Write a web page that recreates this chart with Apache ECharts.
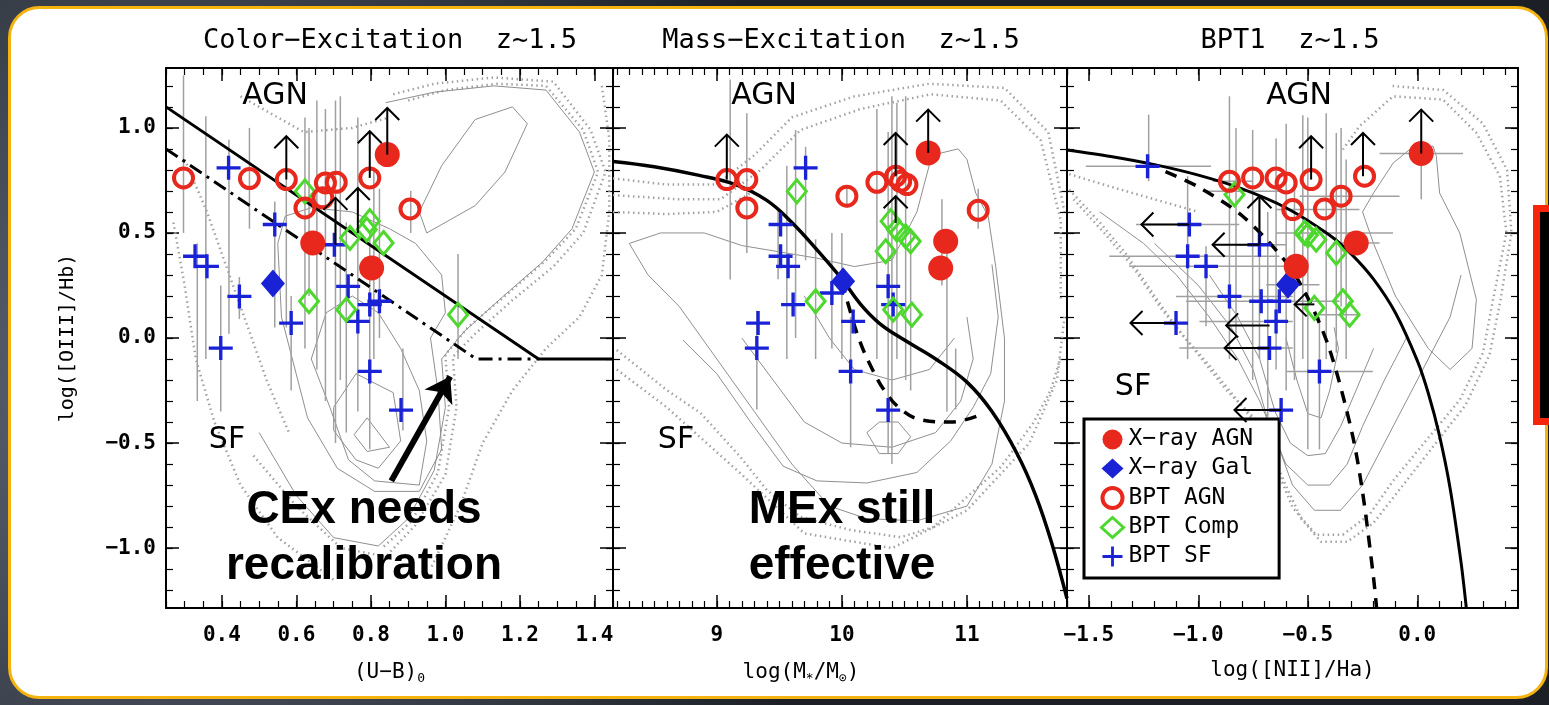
<!DOCTYPE html>
<html><head><meta charset="utf-8">
<script src="https://cdn.jsdelivr.net/npm/echarts/dist/echarts.min.js"></script>
<style>html,body{margin:0;padding:0;background:#2a2f37;overflow:hidden}#c{width:1549px;height:705px}</style>
</head><body><div id="c"></div>
<script>
// ---------------- DATA ----------------
const panelTitles = ['Color−Excitation  z~1.5', 'Mass−Excitation  z~1.5', 'BPT1  z~1.5'];
const xNames = ['(U−B){s|0}', 'log(M{s|*}/M{s|⊙})', 'log([NII]/Ha)'];
const yName = 'log([OIII]/Hb)';
const xRanges = [[0.25, 1.45], [8.17, 11.8], [-1.6, 0.46]];
const yRange = [-1.285, 1.285];
const xMajor = [[0.4, 0.6, 0.8, 1.0, 1.2, 1.4], [9, 10, 11], [-1.5, -1.0, -0.5, 0.0]];
const xMajorLabels = [['0.4', '0.6', '0.8', '1.0', '1.2', '1.4'], ['9', '10', '11'], ['−1.5', '−1.0', '−0.5', '0.0']];
const xMinorStep = [0.05, 0.1, 0.1];
const yMajor = [-1.0, -0.5, 0.0, 0.5, 1.0];
const yMajorLabels = ['−1.0', '−0.5', '0.0', '0.5', '1.0'];
const yMinorStep = 0.1;
const legendNames = ['X−ray AGN', 'X−ray Gal', 'BPT AGN', 'BPT Comp', 'BPT SF'];

// Panel 1: Color-Excitation
const xrayAGN1 = [[0.844, 0.873], [0.644, 0.452], [0.802, 0.333]];
const xrayGal1 = [[0.537, 0.259]];
const bptAGN1 = [[0.297, 0.762], [0.474, 0.759], [0.573, 0.754], [0.623, 0.619], [0.671, 0.667], [0.678, 0.738], [0.707, 0.741], [0.797, 0.762], [0.905, 0.614]];
const bptComp1 = [[0.623, 0.698], [0.744, 0.476], [0.797, 0.556], [0.789, 0.516], [0.834, 0.452], [0.634, 0.175], [0.734, 0.135], [1.034, 0.111]];
const bptSF1 = [[0.418, 0.81], [0.542, 0.54], [0.328, 0.389], [0.36, 0.341], [0.447, 0.198], [0.586, 0.071], [0.397, -0.048], [0.702, 0.444], [0.739, 0.246], [0.797, 0.159], [0.823, 0.175], [0.765, 0.079], [0.797, -0.159], [0.881, -0.343]];
const upArrows1 = [[0.573, 0.754, 0.96], [0.797, 0.762, 0.984], [0.844, 0.873, 1.095], [0.705, 0.444, 0.667], [0.765, 0.5, 0.714]];
const errV1 = [[0.297, 0.5, 1.25], [0.334, -0.3, 0.45], [0.357, -0.1, 1.055], [0.397, -0.35, 0.25], [0.419, 0.02, 0.944], [0.447, 0.09, 0.29], [0.474, 0.52, 1.0], [0.542, 0.05, 0.65], [0.586, -0.25, 0.2], [0.573, 0.05, 0.754], [0.623, -0.05, 1.05], [0.634, 0.2, 1.0], [0.655, -0.15, 1.13], [0.678, -0.3, 1.09], [0.705, -0.5, 1.13], [0.718, -0.2, 1.15], [0.734, -0.45, 0.55], [0.765, -0.35, 1.05], [0.797, -0.53, 0.5], [0.808, -0.1, 0.8], [0.823, 0.0, 0.71], [0.886, -0.44, -0.05], [0.907, 0.5, 0.7], [1.034, -0.1, 0.4]];
const cexSolid = [[0.25, 1.1], [1.25, -0.1], [1.45, -0.1]];
const cexDashDot = [[0.25, 0.9], [1.083, -0.1], [1.25, -0.1]];
const cexNoteArrow = [[0.855, -0.68], [1.013, -0.183]];
const contours1 = [
  [[0.755, -0.46], [0.79, -0.38], [0.85, -0.52], [0.79, -0.54], [0.755, -0.46]],
  [[0.70, -0.33], [0.76, -0.17], [0.86, -0.26], [0.88, -0.49], [0.82, -0.62], [0.76, -0.58], [0.70, -0.44], [0.70, -0.33]],
  [[0.64, -0.1], [0.69, -0.33], [0.74, -0.58], [0.81, -0.68], [0.93, -0.70], [0.95, -0.49], [0.93, -0.25], [0.88, -0.05], [0.82, 0.12], [0.75, 0.2], [0.68, 0.12], [0.64, -0.1]],
  [[0.55, 0.45], [0.56, 0.1], [0.63, -0.38], [0.71, -0.62], [0.81, -0.73], [0.93, -0.73], [0.99, -0.53], [0.98, -0.25], [0.96, 0.0], [1.0, 0.12], [0.99, 0.3], [0.92, 0.45], [0.85, 0.52], [0.75, 0.6], [0.64, 0.62], [0.57, 0.58], [0.55, 0.45]],
  [[0.95, 0.5], [0.93, 0.6], [0.99, 0.82], [1.08, 1.04], [1.18, 1.10], [1.22, 1.02], [1.16, 0.79], [1.08, 0.63], [0.95, 0.5]],
  [[0.84, 1.12], [0.97, 1.17], [1.13, 1.2], [1.27, 1.18], [1.36, 0.98], [1.4, 0.79], [1.34, 0.52], [1.26, 0.36], [1.15, 0.19], [1.05, 0.03], [0.99, -0.1], [1.0, -0.33], [0.97, -0.63], [0.9, -0.86], [0.82, -0.99], [0.7, -0.95], [0.6, -0.75], [0.5, -0.45]]
];
const dotted1 = [
  [[0.86, 1.16], [0.97, 1.21], [1.13, 1.24], [1.29, 1.22], [1.39, 0.99], [1.43, 0.79], [1.37, 0.5], [1.29, 0.34], [1.18, 0.18], [1.08, 0.02], [1.02, -0.09], [1.03, -0.33], [1.0, -0.65], [0.92, -0.89], [0.84, -1.04], [0.72, -1.0], [0.6, -0.8], [0.48, -0.55]],
  [[0.9, 1.13], [1.0, 1.18], [1.14, 1.21], [1.27, 1.2], [1.37, 0.99], [1.41, 0.79], [1.35, 0.52], [1.27, 0.37], [1.16, 0.2], [1.06, 0.05], [1.0, -0.08], [1.01, -0.33], [0.98, -0.64], [0.91, -0.87], [0.83, -1.0]],
  [[1.42, 1.2], [1.44, 0.95], [1.44, 0.6], [1.42, 0.3], [1.36, 0.1], [1.27, -0.05], [1.18, -0.25], [1.1, -0.5], [1.04, -0.8], [0.96, -1.1]],
  [[0.3, 0.85], [0.36, 0.6], [0.42, 0.3], [0.47, 0.05], [0.52, -0.2], [0.58, -0.45]],
  [[0.27, 0.55], [0.3, 0.25], [0.33, -0.1], [0.38, -0.4], [0.45, -0.7], [0.55, -0.95], [0.7, -1.15]],
  [[0.45, 1.15], [0.55, 1.05], [0.62, 0.98], [0.75, 1.0], [0.85, 1.05]]
];

// Panel 2: Mass-Excitation
const xrayAGN2 = [[10.69, 0.881], [10.83, 0.46], [10.79, 0.333]];
const xrayGal2 = [[10.01, 0.27]];
const bptAGN2 = [[9.08, 0.754], [9.24, 0.754], [9.24, 0.619], [10.04, 0.675], [10.28, 0.741], [10.43, 0.770], [10.47, 0.746], [10.52, 0.730], [11.09, 0.608]];
const bptComp2 = [[9.64, 0.698], [10.39, 0.556], [10.44, 0.516], [10.51, 0.484], [10.55, 0.46], [10.35, 0.413], [9.79, 0.175], [10.41, 0.135], [10.56, 0.111]];
const bptSF2 = [[9.71, 0.81], [9.51, 0.54], [9.51, 0.389], [9.57, 0.341], [9.61, 0.159], [9.92, 0.214], [10.09, 0.079], [10.37, 0.246], [10.41, 0.159], [9.33, 0.071], [9.32, -0.048], [10.07, -0.159], [10.37, -0.343]];
const upArrows2 = [[9.08, 0.754, 0.968], [10.43, 0.77, 0.976], [10.43, 0.548, 0.675], [10.69, 0.881, 1.087]];
const errV2 = [[9.107, 0.278, 1.23], [9.24, 0.405, 1.07], [9.32, -0.34, 0.13], [9.49, 0.28, 0.62], [9.56, -0.1, 0.82], [9.63, 0.0, 0.99], [9.71, 0.37, 0.91], [9.79, -0.1, 0.47], [9.92, -0.05, 0.5], [10.0, -0.1, 0.5], [10.07, -0.52, 0.1], [10.04, 0.62, 0.72], [10.28, -0.1, 1.09], [10.37, -0.55, 0.98], [10.4, -0.6, 1.15], [10.44, -0.1, 1.12], [10.51, -0.2, 1.15], [10.55, -0.25, 0.5], [10.8, 0.25, 0.66], [10.84, -0.35, 0.47], [11.09, 0.52, 0.71], [10.91, -0.34, -0.05]];
const mexUpper = [[8.17, 0.84], [8.5, 0.815], [8.85, 0.775], [9.15, 0.73], [9.4, 0.655], [9.6, 0.55], [9.8, 0.42], [10.0, 0.28], [10.15, 0.16], [10.3, 0.07], [10.5, -0.01], [10.75, -0.1], [11.0, -0.21], [11.2, -0.35], [11.4, -0.55], [11.55, -0.75], [11.68, -0.98], [11.8, -1.24]];
const mexLower = [[10.0, 0.27], [10.07, 0.12], [10.14, -0.01], [10.22, -0.12], [10.34, -0.25], [10.48, -0.343], [10.64, -0.39], [10.87, -0.40], [11.13, -0.36]];
const contours2 = [
  [[8.3, 0.45], [8.55, 0.5], [8.9, 0.5], [9.2, 0.44], [9.5, 0.41], [9.8, 0.38], [10.1, 0.34], [10.4, 0.37], [10.6, 0.6], [10.72, 0.87], [10.93, 0.9], [11.0, 0.85], [11.07, 0.69], [11.17, 0.58], [11.23, 0.34], [11.3, 0.0], [11.3, -0.3], [11.2, -0.6], [11.0, -0.8], [10.6, -0.87], [10.2, -0.86], [9.9, -0.8], [9.6, -0.6], [9.3, -0.35], [9.0, -0.1], [8.7, 0.15], [8.45, 0.3], [8.3, 0.45]],
  [[8.73, -0.01], [9.0, -0.17], [9.27, -0.4], [9.53, -0.61], [9.8, -0.68], [10.2, -0.69], [10.6, -0.64], [10.87, -0.49], [11.05, -0.33], [11.19, -0.17], [11.25, 0.1], [11.2, 0.35]],
  [[9.2, 0.0], [9.45, -0.2], [9.7, -0.4], [10.0, -0.5], [10.4, -0.52], [10.75, -0.45], [10.95, -0.3], [11.05, -0.1], [11.0, 0.1]],
  [[9.7, 0.2], [9.9, 0.0], [10.1, -0.15], [10.4, -0.2], [10.7, -0.15], [10.9, 0.0]],
  [[10.2, -0.45], [10.3, -0.4], [10.45, -0.4], [10.55, -0.47], [10.45, -0.55], [10.3, -0.55], [10.2, -0.45]]
];
const dotted2 = [
  [[8.2, -0.057], [8.6, -0.248], [8.87, -0.357], [9.19, -0.567], [9.4, -0.724], [9.67, -0.852], [10.07, -0.914], [10.47, -0.948], [10.73, -0.9], [11.0, -0.757], [11.27, -0.614], [11.53, -0.405], [11.67, -0.248], [11.75, -0.09]],
  [[8.2, -0.15], [8.6, -0.33], [9.2, -0.65], [9.7, -0.93], [10.4, -1.0], [11.0, -0.82], [11.5, -0.5], [11.72, -0.2], [11.78, 0.1]],
  [[8.17, 0.68], [8.7, 0.66], [9.03, 0.66], [9.35, 0.8], [9.67, 0.99], [10.15, 1.09], [10.71, 1.16], [11.27, 1.13], [11.59, 0.94], [11.75, 0.56], [11.75, 0.18]],
  [[8.17, 0.76], [8.6, 0.73], [9.0, 0.73], [9.3, 0.87], [9.6, 1.05], [10.1, 1.15], [10.7, 1.21], [11.3, 1.19], [11.65, 0.98], [11.78, 0.6]],
  [[8.17, 0.6], [8.6, 0.59], [9.0, 0.6], [9.3, 0.7]]
];

// Panel 3: BPT
const xrayAGN3 = [[0.018, 0.878], [-0.279, 0.452], [-0.553, 0.341]];
const xrayGal3 = [[-0.591, 0.254]];
const bptAGN3 = [[-0.858, 0.746], [-0.752, 0.762], [-0.645, 0.762], [-0.599, 0.738], [-0.485, 0.754], [-0.569, 0.611], [-0.424, 0.614], [-0.348, 0.675], [-0.241, 0.770]];
const bptComp3 = [[-0.835, 0.683], [-0.515, 0.5], [-0.462, 0.468], [-0.37, 0.405], [-0.47, 0.143], [-0.34, 0.175], [-0.309, 0.111], [-0.5, 0.49]];
const bptSF3 = [[-1.232, 0.817], [-1.041, 0.54], [-0.721, 0.444], [-1.049, 0.389], [-0.965, 0.341], [-0.858, 0.198], [-0.713, 0.175], [-0.63, 0.175], [-0.645, 0.079], [-1.102, 0.071], [-0.675, -0.048], [-0.447, -0.159], [-0.622, -0.343]];
const upArrows3 = [[-0.485, 0.754, 0.96], [-0.248, 0.77, 0.976], [0.018, 0.878, 1.087], [-0.721, 0.444, 0.675]];
const leftArrows3 = [[0.54, -1.041, -1.26], [0.444, -0.721, -0.935], [0.071, -1.102, -1.31], [0.06, -0.675, -0.873], [-0.048, -0.675, -0.88], [-0.343, -0.622, -0.835], [0.16, -0.47, -0.56]];
const errV3 = [[-1.227, 0.746, 1.063], [-1.049, -0.1, 0.77], [-0.965, 0.056, 0.437], [-0.858, -0.1, 1.15], [-0.828, 0.02, 1.0], [-0.752, -0.2, 0.99], [-0.721, -0.1, 0.675], [-0.683, -0.375, 0.6], [-0.645, -0.15, 0.95], [-0.599, -0.25, 1.02], [-0.561, -0.2, 0.77], [-0.523, -0.1, 1.06], [-0.5, -0.53, 1.05], [-0.447, -0.53, 0.1], [-0.416, -0.1, 1.07], [-0.37, -0.07, 0.976], [-0.348, 0.15, 1.0], [-0.325, -0.1, 0.85], [0.018, 0.66, 0.88]];
const errH3 = [[0.878, -0.172, 0.209], [0.817, -1.514, -0.942], [0.746, -0.934, -0.752], [0.698, -0.965, -0.569], [0.675, -0.538, -0.081], [0.611, -0.645, -0.264], [0.54, -1.285, -0.813], [0.5, -0.645, -0.111], [0.444, -0.828, -0.599], [0.452, -0.386, -0.172], [0.389, -1.407, -0.63], [0.341, -1.316, -0.569], [0.254, -0.69, -0.447], [0.198, -1.102, -0.569], [0.175, -1.056, -0.355], [0.079, -0.995, -0.569], [0.111, -0.447, -0.264], [-0.048, -1.087, -0.569], [-0.159, -0.599, -0.203]];
const kewley = [[-1.6, 0.895], [-1.4, 0.864], [-1.2, 0.825], [-1.0, 0.775], [-0.8, 0.710], [-0.6, 0.620], [-0.4, 0.489], [-0.3, 0.398], [-0.2, 0.280], [-0.1, 0.120], [0.0, -0.108], [0.05, -0.262], [0.1, -0.459], [0.15, -0.716], [0.2, -1.069], [0.224, -1.285]];
const kauffmann = [[-1.15, 0.792], [-1.0, 0.719], [-0.8, 0.582], [-0.6, 0.362], [-0.5, 0.191], [-0.4, -0.056], [-0.3, -0.443], [-0.25, -0.733], [-0.2, -1.14], [-0.186, -1.285]];
const contours3 = [
  [[-1.45, 0.6], [-1.25, 0.45], [-1.1, 0.3], [-0.95, 0.1], [-0.82, -0.1], [-0.72, -0.3], [-0.64, -0.5], [-0.57, -0.7], [-0.47, -0.82], [-0.35, -0.82], [-0.25, -0.7], [-0.15, -0.5], [-0.05, -0.3], [0.05, -0.1], [0.15, 0.1], [0.2, 0.3]],
  [[-1.2, 0.45], [-1.0, 0.25], [-0.85, 0.05], [-0.75, -0.15], [-0.68, -0.4], [-0.6, -0.6], [-0.5, -0.7], [-0.4, -0.7], [-0.32, -0.6], [-0.25, -0.42], [-0.15, -0.2], [-0.05, 0.0]],
  [[-0.95, 0.3], [-0.82, 0.1], [-0.72, -0.1], [-0.65, -0.35], [-0.58, -0.5], [-0.5, -0.56], [-0.42, -0.55], [-0.35, -0.42], [-0.28, -0.25], [-0.2, -0.05]],
  [[-0.6, 0.0], [-0.55, -0.2], [-0.5, -0.36], [-0.44, -0.38], [-0.4, -0.25], [-0.36, -0.05], [-0.38, 0.05]],
  [[-0.25, 0.6], [-0.2, 0.69], [-0.11, 0.833], [-0.035, 0.897], [0.072, 0.913], [0.087, 0.865], [0.102, 0.69], [0.194, 0.5], [0.27, 0.183], [0.25, -0.05], [0.15, -0.15], [0.05, -0.05], [-0.1, 0.2], [-0.2, 0.45], [-0.25, 0.6]]
];
const dotted3 = [
  [[-1.59, 0.706], [-1.45, 0.55], [-1.33, 0.4], [-1.2, 0.2], [-1.1, 0.05], [-0.995, -0.086], [-0.873, -0.247], [-0.72, -0.407], [-0.645, -0.615], [-0.569, -0.808], [-0.462, -0.936], [-0.34, -0.936], [-0.218, -0.84], [-0.111, -0.68], [0.041, -0.487], [0.194, -0.295], [0.3, -0.07], [0.346, 0.183], [0.407, 0.5], [0.377, 0.77], [0.27, 0.976], [0.117, 1.135], [-0.111, 1.15], [-0.264, 1.008], [-0.34, 0.897]],
  [[-1.57, 0.66], [-1.43, 0.5], [-1.3, 0.34], [-1.17, 0.14], [-1.06, 0.0], [-0.95, -0.13], [-0.82, -0.3], [-0.69, -0.47], [-0.61, -0.68], [-0.53, -0.86], [-0.44, -0.97], [-0.32, -0.97], [-0.2, -0.88], [-0.08, -0.72], [0.07, -0.52], [0.22, -0.32], [0.33, -0.08], [0.38, 0.18], [0.43, 0.5], [0.41, 0.8], [0.3, 1.02], [0.12, 1.18], [-0.12, 1.2]],
  [[-1.59, 0.78], [-1.4, 0.72], [-1.2, 0.66], [-1.0, 0.6]]
];

// ---------------- BUILD ----------------
const gridBoxes = [[166, 68, 447, 540], [613, 68, 454, 540], [1067, 68, 451, 540]];
const monoFont = 'DejaVu Sans Mono';
const plusPath = 'path://M4.3,0 h1.4 v4.3 h4.3 v1.4 h-4.3 v4.3 h-1.4 v-4.3 h-4.3 v-1.4 h4.3 Z';
const RED = '#e8281c', BLUE = '#1a22d6', GREEN = '#4cd82c', GREY = '#a0a0a0';

function minorTicks(mn, mx, step) {
  const out = [];
  for (let k = Math.ceil(mn / step - 1e-9); k * step <= mx + 1e-9; k++) out.push(Math.round(k * step * 1e6) / 1e6);
  return out;
}
function labelMapper(vals, labels) {
  const m = {};
  vals.forEach((v, i) => { m[v.toFixed(3)] = labels[i]; });
  return v => m[Number(v).toFixed(3)] || '';
}
const tickLabelStyle = { color: '#000', fontFamily: monoFont, fontWeight: 'bold', fontSize: 21 };

const xAxes = [], yAxes = [], grids = [];
gridBoxes.forEach((b, g) => {
  grids.push({ left: b[0], top: b[1], width: b[2], height: b[3], containLabel: false });
  const [mn, mx] = xRanges[g];
  const base = { type: 'value', gridIndex: g, min: mn, max: mx, splitLine: { show: false }, axisPointer: { show: false } };
  const lineOn = { show: true, onZero: false, lineStyle: { color: '#000', width: 2 } };
  const lineOff = { show: false, onZero: false };
  const majT = { show: true, inside: true, length: 13, customValues: xMajor[g], lineStyle: { color: '#000', width: 1.5 } };
  const minT = { show: true, inside: true, length: 7, customValues: minorTicks(mn, mx, xMinorStep[g]), lineStyle: { color: '#000', width: 1.2 } };
  xAxes.push({ ...base, position: 'bottom', axisLine: lineOn, axisTick: majT,
    axisLabel: { show: true, customValues: xMajor[g], formatter: labelMapper(xMajor[g], xMajorLabels[g]), margin: 17, ...tickLabelStyle },
    name: xNames[g], nameLocation: 'middle', nameGap: 52,
    nameTextStyle: { color: '#000', fontFamily: monoFont, fontSize: 21, padding: g === 1 ? [0, 78, 0, 0] : 0,
      rich: { s: { fontFamily: monoFont, fontSize: 13, color: '#000', padding: [12, 0, 0, 0] } } } });
  xAxes.push({ ...base, position: 'bottom', axisLine: lineOff, axisTick: minT, axisLabel: { show: false } });
  xAxes.push({ ...base, position: 'top', axisLine: lineOn, axisTick: majT, axisLabel: { show: false } });
  xAxes.push({ ...base, position: 'top', axisLine: lineOff, axisTick: minT, axisLabel: { show: false } });

  const ybase = { type: 'value', gridIndex: g, min: yRange[0], max: yRange[1], splitLine: { show: false }, axisPointer: { show: false } };
  const ymajT = { show: true, inside: true, length: 13, customValues: yMajor, lineStyle: { color: '#000', width: 1.5 } };
  const yminT = { show: true, inside: true, length: 7, customValues: minorTicks(yRange[0], yRange[1], yMinorStep), lineStyle: { color: '#000', width: 1.2 } };
  const leftMaj = { ...ybase, position: 'left', axisLine: lineOn, axisTick: ymajT,
    axisLabel: g === 0 ? { show: true, customValues: yMajor, formatter: labelMapper(yMajor, yMajorLabels), margin: 10, ...tickLabelStyle } : { show: false } };
  if (g === 0) Object.assign(leftMaj, { name: yName, nameLocation: 'middle', nameRotate: 90, nameGap: 88,
    nameTextStyle: { color: '#000', fontFamily: monoFont, fontSize: 20 } });
  yAxes.push(leftMaj);
  yAxes.push({ ...ybase, position: 'left', axisLine: lineOff, axisTick: yminT, axisLabel: { show: false } });
  yAxes.push({ ...ybase, position: 'right', axisLine: lineOn, axisTick: ymajT, axisLabel: { show: false } });
  yAxes.push({ ...ybase, position: 'right', axisLine: lineOff, axisTick: yminT, axisLabel: { show: false } });
});

function vErr(params, api) {
  const a = api.coord([api.value(0), api.value(1)]), b = api.coord([api.value(0), api.value(2)]);
  return { type: 'line', shape: { x1: a[0], y1: a[1], x2: b[0], y2: b[1] }, style: { stroke: GREY, lineWidth: 1.5 } };
}
function hErr(params, api) {
  const a = api.coord([api.value(1), api.value(0)]), b = api.coord([api.value(2), api.value(0)]);
  return { type: 'line', shape: { x1: a[0], y1: a[1], x2: b[0], y2: b[1] }, style: { stroke: GREY, lineWidth: 1.5 } };
}
function upArrow(params, api) {
  const a = api.coord([api.value(0), api.value(1)]), b = api.coord([api.value(0), api.value(2)]);
  return { type: 'group', children: [
    { type: 'line', shape: { x1: a[0], y1: a[1], x2: b[0], y2: b[1] }, style: { stroke: '#000', lineWidth: 2 } },
    { type: 'polyline', shape: { points: [[b[0] - 12, b[1] + 12], [b[0], b[1]], [b[0] + 12, b[1] + 12]] }, style: { stroke: '#000', lineWidth: 2, fill: 'none' } }
  ] };
}
function leftArrow(params, api) {
  const a = api.coord([api.value(1), api.value(0)]), b = api.coord([api.value(2), api.value(0)]);
  return { type: 'group', children: [
    { type: 'line', shape: { x1: a[0], y1: a[1], x2: b[0], y2: b[1] }, style: { stroke: '#000', lineWidth: 2 } },
    { type: 'polyline', shape: { points: [[b[0] + 12, b[1] - 12], [b[0], b[1]], [b[0] + 12, b[1] + 12]] }, style: { stroke: '#000', lineWidth: 2, fill: 'none' } }
  ] };
}

const series = [];
function ax(g) { return { xAxisIndex: g * 4, yAxisIndex: g * 4 }; }
function addLines(g, list, style, z) {
  list.forEach(d => series.push({ type: 'line', ...ax(g), data: d, showSymbol: false, symbol: 'none', silent: true, z: z, lineStyle: style, smooth: false }));
}
function addCustom(g, data, render, encode, z) {
  series.push({ type: 'custom', ...ax(g), data: data, renderItem: render, encode: encode, silent: true, z: z });
}
function addMarkers(g, sets) {
  const [agn, gal, bagn, comp, sf] = sets;
  series.push({ type: 'scatter', name: legendNames[1], ...ax(g), data: gal, symbol: 'diamond', symbolSize: [24, 28], itemStyle: { color: BLUE, opacity: 1 }, z: 6 });
  series.push({ type: 'scatter', name: legendNames[4], ...ax(g), data: sf, symbol: plusPath, symbolSize: 24, itemStyle: { color: BLUE, opacity: 1 }, z: 6 });
  series.push({ type: 'scatter', name: legendNames[3], ...ax(g), data: comp, symbol: 'diamond', symbolSize: [19, 23], itemStyle: { color: 'rgba(255,255,255,0)', borderColor: GREEN, borderWidth: 3, opacity: 1 }, z: 6 });
  series.push({ type: 'scatter', name: legendNames[2], ...ax(g), data: bagn, symbol: 'circle', symbolSize: 19, itemStyle: { color: 'rgba(255,255,255,0)', borderColor: RED, borderWidth: 4, opacity: 1 }, z: 7 });
  series.push({ type: 'scatter', name: legendNames[0], ...ax(g), data: agn, symbol: 'circle', symbolSize: 25, itemStyle: { color: RED, opacity: 1 }, z: 7 });
}
const contourStyle = { color: '#8f8f8f', width: 1 };
const dottedStyle = { color: '#a2a2a2', width: 2.5, type: [1.5, 3.5] };

// Panel 1
addLines(0, dotted1, dottedStyle, 1);
addLines(0, contours1, contourStyle, 1);
addCustom(0, errV1, vErr, { x: 0, y: [1, 2] }, 2);
series.push({ type: 'line', ...ax(0), data: cexSolid, showSymbol: false, symbol: 'none', silent: true, z: 4, lineStyle: { color: '#000', width: 3 } });
series.push({ type: 'line', ...ax(0), data: cexDashDot, showSymbol: false, symbol: 'none', silent: true, z: 4, lineStyle: { color: '#000', width: 3, type: [14, 6, 3, 6] } });
addMarkers(0, [xrayAGN1, xrayGal1, bptAGN1, bptComp1, bptSF1]);
addCustom(0, upArrows1, upArrow, { x: 0, y: [1, 2] }, 8);
series.push({ type: 'lines', coordinateSystem: 'cartesian2d', ...ax(0), data: [{ coords: cexNoteArrow }], symbol: ['none', 'arrow'], symbolSize: 24, silent: true, z: 9, lineStyle: { color: '#000', width: 6, opacity: 1 } });

// Panel 2
addLines(1, dotted2, dottedStyle, 1);
addLines(1, contours2, contourStyle, 1);
addCustom(1, errV2, vErr, { x: 0, y: [1, 2] }, 2);
series.push({ type: 'line', ...ax(1), data: mexUpper, showSymbol: false, symbol: 'none', silent: true, z: 4, smooth: 0.4, lineStyle: { color: '#000', width: 3.5 } });
series.push({ type: 'line', ...ax(1), data: mexLower, showSymbol: false, symbol: 'none', silent: true, z: 4, smooth: 0.4, lineStyle: { color: '#000', width: 3.5, type: [12, 9] } });
addMarkers(1, [xrayAGN2, xrayGal2, bptAGN2, bptComp2, bptSF2]);
addCustom(1, upArrows2, upArrow, { x: 0, y: [1, 2] }, 8);

// Panel 3
addLines(2, dotted3, dottedStyle, 1);
addLines(2, contours3, contourStyle, 1);
addCustom(2, errV3, vErr, { x: 0, y: [1, 2] }, 2);
addCustom(2, errH3, hErr, { x: [1, 2], y: 0 }, 2);
series.push({ type: 'line', ...ax(2), data: kewley, showSymbol: false, symbol: 'none', silent: true, z: 4, smooth: 0.3, lineStyle: { color: '#000', width: 3 } });
series.push({ type: 'line', ...ax(2), data: kauffmann, showSymbol: false, symbol: 'none', silent: true, z: 4, smooth: 0.3, lineStyle: { color: '#000', width: 3.5, type: [12, 9] } });
addMarkers(2, [xrayAGN3, xrayGal3, bptAGN3, bptComp3, bptSF3]);
addCustom(2, upArrows3, upArrow, { x: 0, y: [1, 2] }, 8);
addCustom(2, leftArrows3, leftArrow, { x: [1, 2], y: 0 }, 8);

function txt(x, y, text, font, extra) {
  return Object.assign({ type: 'text', x: x, y: y, z: 50, silent: true,
    style: { text: text, font: font, fill: '#000', align: 'center', verticalAlign: 'middle', textAlign: 'center', textVerticalAlign: 'middle' } }, extra || {});
}
const bigFont = 'bold 46px "Liberation Sans"';
const labFont = '30px "DejaVu Sans"';

const option = {
  animation: false,
  backgroundColor: 'transparent',
  grid: grids,
  xAxis: xAxes,
  yAxis: yAxes,
  title: panelTitles.map((t, i) => ({ text: t, left: [390, 841, 1290][i], top: 27, textAlign: 'center', padding: 0,
    textStyle: { fontFamily: monoFont, fontSize: 27, fontWeight: 'normal', color: '#000' } })),
  legend: {
    left: 1084, top: 419, orient: 'vertical', selectedMode: false,
    padding: [9, 26, 10, 16], itemGap: 6, itemWidth: 22, itemHeight: 20,
    borderColor: '#000', borderWidth: 3, backgroundColor: '#fff', borderRadius: 0,
    textStyle: { fontFamily: monoFont, fontSize: 23, color: '#000' },
    data: [
      { name: legendNames[0], icon: 'circle', itemStyle: { color: RED, borderWidth: 0 } },
      { name: legendNames[1], icon: 'diamond', itemStyle: { color: BLUE, borderWidth: 0 } },
      { name: legendNames[2], icon: 'circle', itemStyle: { color: 'rgba(255,255,255,0)', borderColor: RED, borderWidth: 4 } },
      { name: legendNames[3], icon: 'diamond', itemStyle: { color: 'rgba(255,255,255,0)', borderColor: GREEN, borderWidth: 3 } },
      { name: legendNames[4], icon: plusPath, itemStyle: { color: BLUE, borderWidth: 0 } }
    ]
  },
  graphic: [
    { type: 'rect', z: -100, silent: true, shape: { x: 0, y: 0, width: 1549, height: 705 },
      style: { fill: { type: 'radial', x: 0.1, y: 0.55, r: 1.0, colorStops: [{ offset: 0, color: '#5f6877' }, { offset: 1, color: '#1c2026' }] } } },
    { type: 'rect', z: -99, silent: true, shape: { x: 9.5, y: 7.5, width: 1537, height: 690, r: 30 }, style: { fill: '#ffffff', stroke: '#f4b30f', lineWidth: 3 } },
    { type: 'rect', z: -98, silent: true, shape: { x: 1536.5, y: 208.5, width: 40, height: 213 }, style: { fill: '#000', stroke: '#f5260c', lineWidth: 7 } },
    txt(275, 96, 'AGN', labFont), txt(764, 96, 'AGN', labFont), txt(1299, 96, 'AGN', labFont),
    txt(227, 440, 'SF', labFont), txt(676, 440, 'SF', labFont), txt(1133, 387, 'SF', labFont),
    txt(364, 510, 'CEx needs', bigFont), txt(364, 566, 'recalibration', bigFont),
    txt(842, 510, 'MEx still', bigFont), txt(842, 566, 'effective', bigFont)
  ],
  series: series
};
const chart = echarts.init(document.getElementById('c'), null, { renderer: 'canvas' });
chart.setOption(option);
</script></body></html>
